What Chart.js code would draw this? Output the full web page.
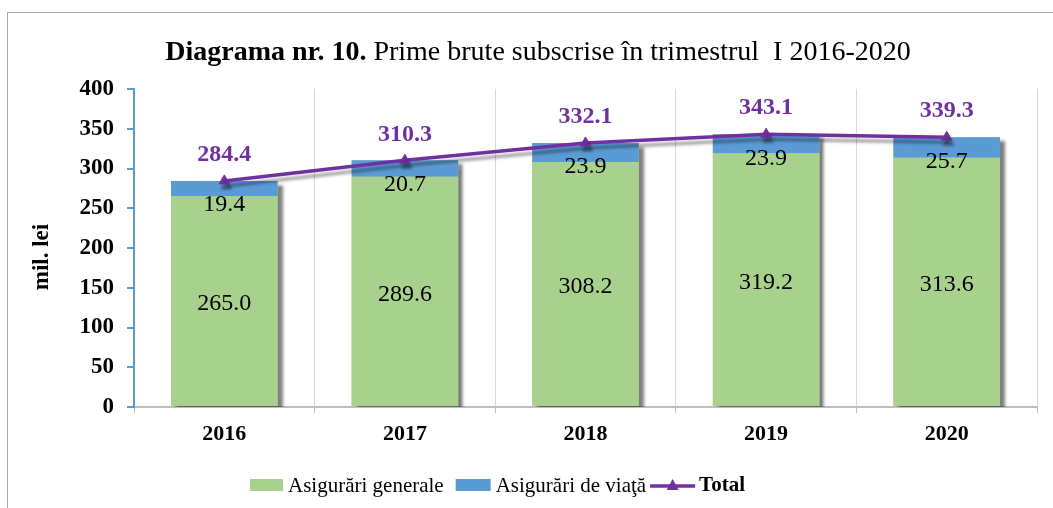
<!DOCTYPE html>
<html><head><meta charset="utf-8">
<script src="https://cdn.jsdelivr.net/npm/chart.js@4"></script>
<style>
html,body{margin:0;padding:0;background:#fff;}
#wrap{position:relative;width:1053px;height:508px;overflow:hidden;}
#frame{position:absolute;left:7px;top:12px;width:1060px;height:520px;border:1px solid #a6a6a6;box-sizing:border-box;}
canvas{position:absolute;left:0;top:0;}
</style></head><body>
<div id="wrap"><div id="frame"></div><canvas id="c" width="1053" height="508"></canvas></div>
<script>
const years = ['2016', '2017', '2018', '2019', '2020'];
const general = [265.0, 289.6, 308.2, 319.2, 313.6];
const life = [19.4, 20.7, 23.9, 23.9, 25.7];
const total = [284.4, 310.3, 332.1, 343.1, 339.3];
const yTicks = [0, 50, 100, 150, 200, 250, 300, 350, 400];
const seriesNames = ['Asigurări generale', 'Asigurări de viaţă', 'Total'];
const titleBold = 'Diagrama nr. 10.';
const titleRest = ' Prime brute subscrise în trimestrul  I 2016-2020';
const yTitle = 'mil. lei';

const FAM = "'Liberation Serif', 'Times New Roman', serif";
const GREEN = '#a9d18e', BLUE = '#5b9bd5', PURPLE = '#7030a0';

const decor = {
  id: 'decor',
  beforeDatasetsDraw(chart) {
    const ctx = chart.ctx, ca = chart.chartArea;
    const mg = chart.getDatasetMeta(0), ml = chart.getDatasetMeta(1);
    ctx.save();
    ctx.beginPath(); ctx.rect(ca.left, 0, ca.right - ca.left + 20, ca.bottom); ctx.clip();
    ctx.shadowColor = 'rgba(0,0,0,0.5)';
    ctx.shadowOffsetX = 5; ctx.shadowOffsetY = 4; ctx.shadowBlur = 3;
    ctx.fillStyle = GREEN;
    mg.data.forEach((g, i) => {
      const b = ml.data[i];
      const left = g.x - g.width / 2;
      ctx.fillRect(left, b.y, g.width, g.base - b.y);
    });
    ctx.restore();
  },
  beforeDatasetDraw(chart, args) {
    if (args.index === 2) {
      const ctx = chart.ctx;
      ctx.save();
      ctx.shadowColor = 'rgba(0,0,0,0.35)';
      ctx.shadowOffsetX = 2; ctx.shadowOffsetY = 5; ctx.shadowBlur = 3;
    }
  },
  afterDatasetDraw(chart, args) {
    if (args.index === 2) chart.ctx.restore();
  },
  afterDatasetsDraw(chart) {
    const ctx = chart.ctx;
    const mg = chart.getDatasetMeta(0), ml = chart.getDatasetMeta(1), mt = chart.getDatasetMeta(2);
    ctx.save();
    ctx.textAlign = 'center'; ctx.textBaseline = 'middle';
    ctx.fillStyle = '#000';
    ctx.font = "24px " + FAM;
    mg.data.forEach((g, i) => {
      ctx.fillText(general[i].toFixed(1), g.x, (g.y + g.base) / 2 + 3);
    });
    ml.data.forEach((b, i) => {
      ctx.fillText(life[i].toFixed(1), b.x, b.y + 24);
    });
    ctx.fillStyle = PURPLE;
    ctx.font = "bold 24px " + FAM;
    mt.data.forEach((p, i) => {
      ctx.fillText(total[i].toFixed(1), p.x, p.y - 26);
    });
    ctx.restore();
  },
  afterDraw(chart) {
    const ctx = chart.ctx;
    ctx.save();
    // title
    ctx.textBaseline = 'alphabetic'; ctx.fillStyle = '#000';
    ctx.font = "bold 28px " + FAM;
    const w1 = ctx.measureText(titleBold).width;
    ctx.font = "28px " + FAM;
    const w2 = ctx.measureText(titleRest).width;
    let tx = 538 - (w1 + w2) / 2;
    ctx.font = "bold 28px " + FAM; ctx.textAlign = 'left';
    ctx.fillText(titleBold, tx, 60);
    ctx.font = "28px " + FAM;
    ctx.fillText(titleRest, tx + w1, 60);
    // y title
    ctx.save();
    ctx.translate(42, 257);
    ctx.rotate(-Math.PI / 2);
    ctx.textAlign = 'center'; ctx.textBaseline = 'middle';
    ctx.font = "bold 23px " + FAM;
    ctx.fillText(yTitle, 0, 0);
    ctx.restore();
    // legend
    const ly = 485;
    let x = 250;
    ctx.textBaseline = 'middle'; ctx.textAlign = 'left';
    ctx.font = "21px " + FAM;
    ctx.fillStyle = GREEN; ctx.fillRect(x, ly - 6, 33, 12);
    x += 38; ctx.fillStyle = '#000'; ctx.fillText(seriesNames[0], x, ly + 1);
    x += ctx.measureText(seriesNames[0]).width + 12;
    ctx.fillStyle = BLUE; ctx.fillRect(x, ly - 6, 35, 12);
    x += 40; ctx.fillStyle = '#000'; ctx.fillText(seriesNames[1], x, ly + 1);
    x += ctx.measureText(seriesNames[1]).width + 4;
    ctx.strokeStyle = PURPLE; ctx.lineWidth = 3.5;
    ctx.beginPath(); ctx.moveTo(x, ly + 1); ctx.lineTo(x + 45, ly + 1); ctx.stroke();
    ctx.fillStyle = PURPLE;
    const cx = x + 22.5;
    ctx.beginPath(); ctx.moveTo(cx, ly - 6); ctx.lineTo(cx + 6, ly + 5); ctx.lineTo(cx - 6, ly + 5); ctx.closePath(); ctx.fill();
    x += 49;
    ctx.fillStyle = '#000'; ctx.font = "bold 21px " + FAM;
    ctx.fillText(seriesNames[2], x, ly + 1);
    ctx.restore();
  }
};

new Chart(document.getElementById('c'), {
  type: 'bar',
  data: {
    labels: years,
    datasets: [
      { label: seriesNames[0], data: general, backgroundColor: GREEN, stack: 's', order: 1,
        categoryPercentage: 1, barPercentage: 0.59 },
      { label: seriesNames[1], data: life, backgroundColor: BLUE, stack: 's', order: 1,
        categoryPercentage: 1, barPercentage: 0.59 },
      { type: 'line', label: seriesNames[2], data: total, stack: 't', order: 0,
        borderColor: PURPLE, backgroundColor: PURPLE, borderWidth: 3.5, tension: 0,
        pointStyle: 'triangle', pointRadius: 6, pointBackgroundColor: PURPLE, pointBorderColor: PURPLE,
        pointBorderWidth: 1, clip: false }
    ]
  },
  options: {
    responsive: false, animation: false, devicePixelRatio: 1,
    layout: { padding: { top: 89, right: 16, bottom: 61, left: 0 } },
    plugins: { legend: { display: false }, title: { display: false }, tooltip: { enabled: false } },
    scales: {
      x: {
        stacked: true,
        grid: { display: true, offset: true, color: '#d9d9d9', lineWidth: 1, drawTicks: true, tickLength: 6, tickColor: '#bfbfbf' },
        border: { color: '#bfbfbf', width: 2 },
        ticks: { color: '#000', font: { family: FAM, size: 22, weight: 'bold' }, padding: 8 },
        afterFit(s) { s.height = 40; }
      },
      y: {
        stacked: true, min: 0, max: 400,
        afterBuildTicks(s) { s.ticks = yTicks.map(v => ({ value: v })); },
        grid: { drawOnChartArea: false, drawTicks: true, tickLength: 7, tickColor: BLUE, lineWidth: 2 },
        border: { color: BLUE, width: 2 },
        ticks: { color: '#000', font: { family: FAM, size: 23, weight: 'bold' }, padding: 13 },
        afterFit(s) { s.width = 134; }
      }
    }
  },
  plugins: [decor]
});
</script>
</body></html>
